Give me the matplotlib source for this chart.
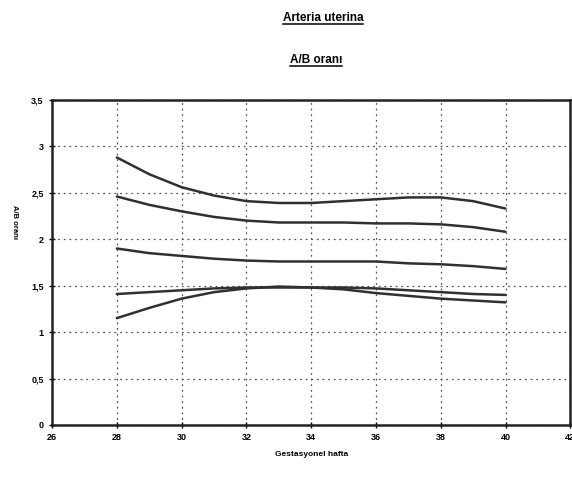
import numpy as np
import matplotlib
matplotlib.use("Agg")
import matplotlib.pyplot as plt
from matplotlib.lines import Line2D

weeks = [28, 29, 30, 31, 32, 33, 34, 35, 36, 37, 38, 39, 40]
p95 = [2.88, 2.70, 2.56, 2.47, 2.41, 2.39, 2.39, 2.41, 2.43, 2.45, 2.45, 2.41, 2.33]
p90 = [2.46, 2.37, 2.30, 2.24, 2.20, 2.18, 2.18, 2.18, 2.17, 2.17, 2.16, 2.13, 2.08]
p50 = [1.90, 1.85, 1.82, 1.79, 1.77, 1.76, 1.76, 1.76, 1.76, 1.74, 1.73, 1.71, 1.68]
p10 = [1.41, 1.43, 1.45, 1.47, 1.48, 1.48, 1.48, 1.48, 1.47, 1.45, 1.43, 1.41, 1.40]
p5 = [1.15, 1.26, 1.36, 1.43, 1.47, 1.49, 1.48, 1.46, 1.42, 1.39, 1.36, 1.34, 1.32]

xticks = [26, 28, 30, 32, 34, 36, 38, 40, 42]
yticks = [0, 0.5, 1, 1.5, 2, 2.5, 3, 3.5]
ylabels = ["0", "0,5", "1", "1,5", "2", "2,5", "3", "3,5"]

plt.rcParams['font.family'] = ['Liberation Sans', 'DejaVu Sans']

fig = plt.figure(figsize=(5.72, 4.78), dpi=100)
ax = fig.add_axes([0.091, 0.111, 0.906, 0.68])

for series in [p95, p90, p50, p10, p5]:
    ax.plot(weeks, series, color='#303030', lw=1.8, solid_capstyle='round',
            solid_joinstyle='round')

ax.set_xlim(26, 42)
ax.set_ylim(0, 3.5)
ax.set_xticks(xticks)
ax.set_yticks(yticks)
ax.set_yticklabels(ylabels)
ax.grid(True, color='#555555', linestyle=(0, (1.5, 3)), lw=0.9)
ax.tick_params(direction='inout', length=4, width=1, labelsize=6.5, pad=4)
for lab in ax.get_xticklabels() + ax.get_yticklabels():
    lab.set_fontweight('bold')
for s in ax.spines.values():
    s.set_linewidth(1.8)
    s.set_color('#222222')

ax.set_xlabel("Gestasyonel hafta", fontsize=6, fontweight='bold', labelpad=6)
fig.text(0.026, 0.535, "A/B oranı", rotation=-90, fontsize=5.5, fontweight='bold',
         ha='center', va='center')

t1 = fig.text(0.565, 0.962, "Arteria uterina", fontsize=8.5, fontweight='bold',
              ha='center', va='center')
t2 = fig.text(0.552, 0.874, "A/B oranı", fontsize=8.5, fontweight='bold',
              ha='center', va='center')

fig.canvas.draw()
r = fig.canvas.get_renderer()
for t in [t1, t2]:
    bb = t.get_window_extent(r).transformed(fig.transFigure.inverted())
    fig.add_artist(Line2D([bb.x0, bb.x1], [bb.y0 + 0.001, bb.y0 + 0.001],
                          transform=fig.transFigure, color='black', lw=1.1))

fig.savefig("out.png", dpi=100)
